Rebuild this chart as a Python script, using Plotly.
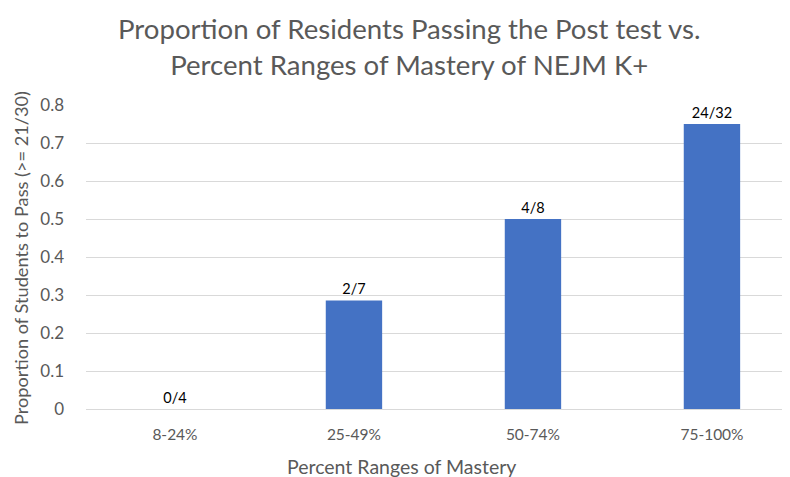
import plotly.graph_objects as go

categories = ["8-24%", "25-49%", "50-74%", "75-100%"]
passed = [0, 2, 4, 24]
totals = [4, 7, 8, 32]
proportions = [p / t for p, t in zip(passed, totals)]
labels = [f"{p}/{t}" for p, t in zip(passed, totals)]
y_ticks = [0, 0.1, 0.2, 0.3, 0.4, 0.5, 0.6, 0.7, 0.8]
y_tick_text = ["0", "0.1", "0.2", "0.3", "0.4", "0.5", "0.6", "0.7", "0.8"]

FONT = "Lato, 'Open Sans', sans-serif"
GREY = "#595959"

# The page body adds an 8px offset, so the figure is 782x469 placed at (8, 8).
W, H = 782, 469
L, T, B = 78, 97, 68
PW = W - L
PH = H - T - B

fig = go.Figure(
    go.Bar(
        x=categories,
        y=proportions,
        text=labels,
        textposition="outside",
        textfont=dict(family=FONT, size=14.5, color="#000000"),
        marker=dict(color="#4472C4", line=dict(width=0)),
        width=0.315,
        cliponaxis=False,
    )
)

fig.update_layout(
    width=W,
    height=H,
    margin=dict(l=L, r=0, t=T, b=B),
    paper_bgcolor="white",
    plot_bgcolor="white",
    showlegend=False,
    font=dict(family=FONT, color=GREY),
    xaxis=dict(
        type="category",
        range=[-0.497, 3.436],
        showgrid=False,
        showline=False,
        ticks="",
        ticklabelstandoff=14,
        tickfont=dict(family=FONT, size=15.5, color=GREY),
    ),
    yaxis=dict(
        range=[0, 0.8],
        tickvals=y_ticks,
        ticktext=y_tick_text,
        showgrid=True,
        gridcolor="#D9D9D9",
        gridwidth=1,
        zeroline=True,
        zerolinecolor="#D9D9D9",
        zerolinewidth=1,
        showline=False,
        ticks="",
        ticklabelstandoff=21,
        tickfont=dict(family=FONT, size=17, color=GREY),
    ),
    annotations=[
        dict(
            text="Proportion of Residents Passing the Post test vs.<br>Percent Ranges of Mastery of NEJM K+",
            xref="paper", yref="paper",
            x=(409 - 86) / PW, y=1 + (105 - 46) / PH,
            xanchor="center", yanchor="middle",
            align="center",
            showarrow=False,
            font=dict(family=FONT, size=27.6, color=GREY),
        ),
        dict(
            text="Percent Ranges of Mastery",
            xref="paper", yref="paper",
            x=(401 - 86) / PW, y=-(466 - 409) / PH,
            xanchor="center", yanchor="middle",
            showarrow=False,
            font=dict(family=FONT, size=19.5, color=GREY),
        ),
        dict(
            text="Proportion of Students to Pass (>= 21/30)",
            xref="paper", yref="paper",
            x=-(86 - 21) / PW, y=(409 - 258) / PH,
            xanchor="center", yanchor="middle",
            textangle=-90,
            showarrow=False,
            font=dict(family=FONT, size=18.2, color=GREY),
        ),
    ],
)

fig.write_html("out.html")
